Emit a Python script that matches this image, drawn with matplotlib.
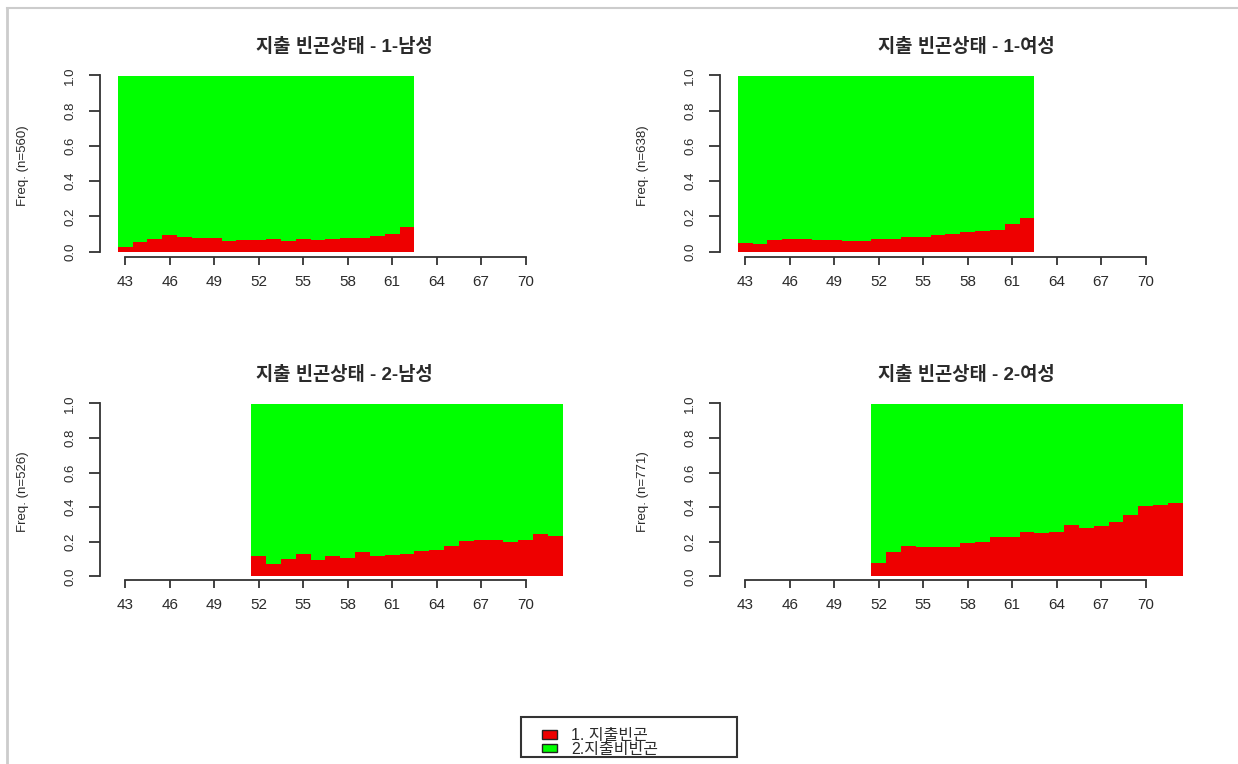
import matplotlib
matplotlib.use('Agg')
import matplotlib.pyplot as plt
from matplotlib.patches import Patch, Rectangle
from matplotlib.lines import Line2D
import numpy as np

## plt config
plt.rcParams['font.family'] = ['Liberation Sans', 'Noto Sans CJK KR', 'DejaVu Sans']
plt.rcParams['axes.unicode_minus'] = False

## data: share of households in expenditure poverty by age
ages_1 = list(range(43, 63))
poor_1_male = [0.027, 0.055, 0.072, 0.095, 0.085, 0.078, 0.078, 0.057, 0.064, 0.064,
               0.072, 0.057, 0.072, 0.064, 0.072, 0.078, 0.078, 0.087, 0.102, 0.138]
poor_1_female = [0.049, 0.042, 0.063, 0.072, 0.072, 0.064, 0.064, 0.057, 0.057, 0.072,
                 0.072, 0.085, 0.085, 0.095, 0.102, 0.110, 0.117, 0.125, 0.159, 0.188]

ages_2 = list(range(52, 73))
poor_2_male = [0.117, 0.073, 0.100, 0.132, 0.096, 0.117, 0.109, 0.140, 0.117, 0.123, 0.132,
               0.148, 0.155, 0.176, 0.205, 0.213, 0.213, 0.199, 0.213, 0.243, 0.234]
poor_2_female = [0.080, 0.140, 0.176, 0.169, 0.169, 0.169, 0.192, 0.199, 0.228, 0.228, 0.257,
                 0.251, 0.257, 0.300, 0.280, 0.293, 0.316, 0.354, 0.406, 0.414, 0.427]

titles = ['지출 빈곤상태 - 1-남성', '지출 빈곤상태 - 1-여성',
          '지출 빈곤상태 - 2-남성', '지출 빈곤상태 - 2-여성']
n_obs = [560, 638, 526, 771]
legend_labels = ['1. 지출빈곤', '2.지출비빈곤']
x_ticks = list(range(43, 71, 3))
y_ticks = [0.0, 0.2, 0.4, 0.6, 0.8, 1.0]

RED = '#EE0000'
GREEN = '#00FF00'
INK = '#2a2a2a'

W, H = 1238, 764
fig = plt.figure(figsize=(W / 100, H / 100), dpi=100)


def px_box(x0, y0, x1, y1):
    # pixel box (top-left origin) -> figure fraction [left, bottom, width, height]
    return [x0 / W, 1 - y1 / H, (x1 - x0) / W, (y1 - y0) / H]


panels = [
    (ages_1, poor_1_male, px_box(100, 75.5, 579, 256.8), (-0.03, 1.0), (344, 47)),
    (ages_1, poor_1_female, px_box(720, 75.5, 1199, 256.8), (-0.03, 1.0), (966, 47)),
    (ages_2, poor_2_male, px_box(100, 403.5, 579, 580.3), (-0.022, 1.0), (344, 375)),
    (ages_2, poor_2_female, px_box(720, 403.5, 1199, 580.3), (-0.022, 1.0), (966, 375)),
]

for i, (ages, poor, box, ylim, title_xy) in enumerate(panels):
    ax = fig.add_axes(box)
    poor = np.array(poor)
    ax.bar(ages, poor, width=1.0, color=RED, linewidth=0, antialiased=False)
    ax.bar(ages, 1 - poor, bottom=poor, width=1.0, color=GREEN, linewidth=0, antialiased=False)

    ax.set_xlim(41.3, 73.6)
    ax.set_ylim(*ylim)
    for s in ['top', 'right']:
        ax.spines[s].set_visible(False)
    ax.spines['bottom'].set_bounds(43, 70)
    ax.spines['left'].set_bounds(0, 1)
    for s in ['bottom', 'left']:
        ax.spines[s].set_color('#333333')
        ax.spines[s].set_linewidth(1.3)

    ax.set_xticks(x_ticks)
    ax.set_xticklabels([str(t) for t in x_ticks])
    ax.set_yticks(y_ticks)
    ax.set_yticklabels([f'{t:.1f}' for t in y_ticks])
    ax.tick_params(axis='x', length=6, width=1.3, color='#333333', pad=7,
                   labelsize=11, labelcolor=INK)
    ax.tick_params(axis='y', length=8, width=1.3, color='#333333', pad=9,
                   labelsize=9.5, labelcolor=INK, labelrotation=90)
    for lab in ax.get_yticklabels():
        lab.set_va('center')

    ax.set_ylabel(f'Freq. (n={n_obs[i]})', fontsize=9.5, color=INK)
    ax.yaxis.set_label_coords(-0.148, 0.5)

    fig.text(title_xy[0] / W, 1 - title_xy[1] / H, titles[i], ha='center', va='center',
             fontsize=13.5, fontweight='bold', color=INK)

# legend box at the bottom centre
fig.add_artist(Rectangle((521 / W, 1 - 757 / H), 216 / W, 40 / H, transform=fig.transFigure,
                         fill=False, edgecolor='#333333', linewidth=1.5))
handles = [Patch(facecolor=RED, edgecolor='#222222', linewidth=1.0),
           Patch(facecolor=GREEN, edgecolor='#222222', linewidth=1.0)]
fig.legend(handles, legend_labels, loc='upper left', bbox_to_anchor=(531 / W, 1 - 717 / H),
           frameon=False, fontsize=11.5, handlelength=0.95, handleheight=0.45,
           handletextpad=0.85, labelspacing=-0.1, borderpad=0.2, labelcolor=INK)

# light outer frame (left and top edge)
fig.add_artist(Line2D([7 / W, 7 / W], [0, 1 - 8 / H], transform=fig.transFigure,
                      color='#cccccc', linewidth=2))
fig.add_artist(Line2D([7 / W, 1], [1 - 8 / H, 1 - 8 / H], transform=fig.transFigure,
                      color='#cccccc', linewidth=1.5))

plt.savefig('out.png', dpi=100)
